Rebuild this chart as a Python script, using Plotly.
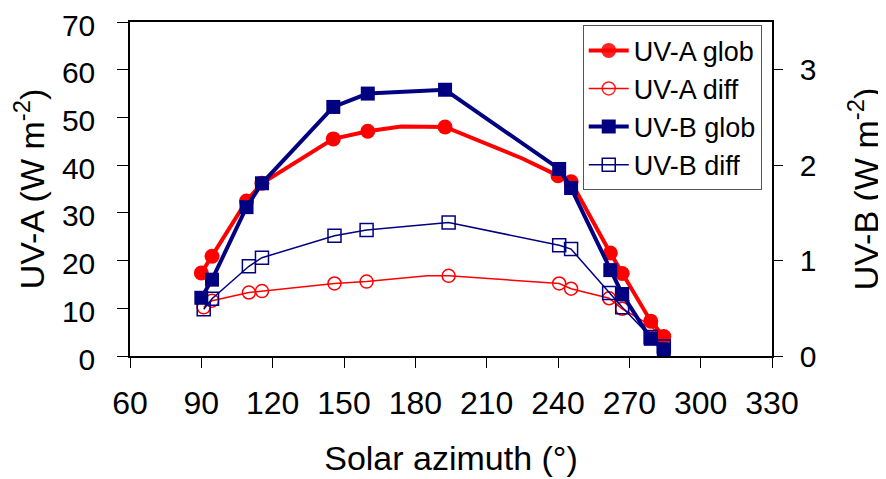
import plotly.graph_objects as go

# ---- data ----
uva_glob_x = [90, 94.5, 109, 115.5, 145.5, 160, 174, 192.5, 225, 240, 245.5, 262, 267, 279, 284.5]
uva_glob_y = [17.4, 20.9, 32.5, 36.2, 45.5, 47.1, 48.1, 48.0, 41.4, 37.8, 36.5, 21.6, 17.3, 7.3, 4.1]
uva_glob_marker = [1, 1, 1, 1, 1, 1, 0, 1, 0, 1, 1, 1, 1, 1, 1]

uva_diff_x = [91, 94.5, 110, 115.5, 146, 159.5, 185, 194, 225, 240.5, 245.5, 261.5, 267, 279, 284.5]
uva_diff_y = [10.2, 11.6, 13.3, 13.6, 15.2, 15.6, 16.8, 16.8, 15.8, 15.2, 14.1, 12.1, 9.9, 6.4, 3.0]
uva_diff_marker = [1, 1, 1, 1, 1, 1, 0, 1, 0, 1, 1, 1, 1, 1, 1]

uvb_glob_x = [90, 94.5, 109, 115.5, 145.5, 160, 192.5, 240.5, 245.5, 262, 267, 279, 284.5]
uvb_glob_y = [0.61, 0.80, 1.56, 1.81, 2.61, 2.75, 2.79, 1.96, 1.76, 0.90, 0.65, 0.18, 0.07]

uvb_diff_x = [91, 94.5, 110, 115.5, 146, 159.5, 194, 240.5, 245.5, 261.5, 267, 279, 284.5]
uvb_diff_y = [0.49, 0.60, 0.94, 1.03, 1.26, 1.32, 1.40, 1.16, 1.12, 0.66, 0.51, 0.20, 0.10]

x_ticks = [60, 90, 120, 150, 180, 210, 240, 270, 300, 330]
y_ticks = [0, 10, 20, 30, 40, 50, 60, 70]
y2_ticks = [0, 1, 2, 3]

RED = "#FF0000"
NAVY = "#000080"
FONT = "Liberation Sans, Arial, sans-serif"

fig = go.Figure()
fig.add_trace(go.Scatter(
    x=uva_glob_x, y=uva_glob_y, name="UV-A glob", mode="lines+markers",
    line=dict(color=RED, width=4),
    marker=dict(symbol="circle", size=15, color=RED, opacity=uva_glob_marker),
    cliponaxis=False))
fig.add_trace(go.Scatter(
    x=uva_diff_x, y=uva_diff_y, name="UV-A diff", mode="lines+markers",
    line=dict(color=RED, width=1.5),
    marker=dict(symbol="circle-open", size=13, color=RED, opacity=uva_diff_marker,
                line=dict(width=1.5, color=RED)),
    cliponaxis=False))
fig.add_trace(go.Scatter(
    x=uvb_glob_x, y=uvb_glob_y, name="UV-B glob", mode="lines+markers", yaxis="y2",
    line=dict(color=NAVY, width=4),
    marker=dict(symbol="square", size=14, color=NAVY),
    cliponaxis=False))
fig.add_trace(go.Scatter(
    x=uvb_diff_x, y=uvb_diff_y, name="UV-B diff", mode="lines+markers", yaxis="y2",
    line=dict(color=NAVY, width=1.5),
    marker=dict(symbol="square-open", size=13, color=NAVY, line=dict(width=1.5, color=NAVY)),
    cliponaxis=False))

axis_common = dict(showgrid=False, zeroline=False, showline=True, linecolor="black",
                   linewidth=1.5, ticks="outside", tickcolor="black", tickwidth=1,
                   automargin=False, ticklabeloverflow="allow")

fig.update_layout(
    width=878, height=471,
    margin=dict(l=122, r=114, t=14, b=123, autoexpand=False),
    paper_bgcolor="white", plot_bgcolor="white",
    font=dict(family=FONT, color="black"),
    showlegend=True,
    legend=dict(x=0.984, y=0.99, xanchor="right", yanchor="top",
                bgcolor="white", bordercolor="#555555", borderwidth=1,
                font=dict(family=FONT, size=27, color="black"),
                tracegroupgap=0, itemwidth=40),
    xaxis=dict(range=[60, 330], tickvals=x_ticks, ticktext=[str(v) for v in x_ticks],
               ticklen=10, ticklabelstandoff=8, mirror=True,
               tickfont=dict(family=FONT, size=32, color="black"),
               title=dict(text="Solar azimuth (°)", font=dict(family=FONT, size=34), standoff=26),
               **axis_common),
    yaxis=dict(range=[0, 70], tickvals=y_ticks, ticklen=11, ticklabelstandoff=16,
               ticklabelshift=3,
               tickfont=dict(family=FONT, size=30, color="black"),
               title=dict(text="UV-A (W m<sup>-2</sup>)", font=dict(family=FONT, size=34), standoff=13),
               **axis_common),
    yaxis2=dict(range=[0, 3.5], tickvals=y2_ticks, overlaying="y", side="right",
                ticklen=9, ticklabelstandoff=11,
                tickfont=dict(family=FONT, size=30, color="black"),
                title=dict(text="UV-B (W m<sup>-2</sup>)", font=dict(family=FONT, size=34), standoff=39),
                **axis_common),
)

fig.write_html("out.html")
